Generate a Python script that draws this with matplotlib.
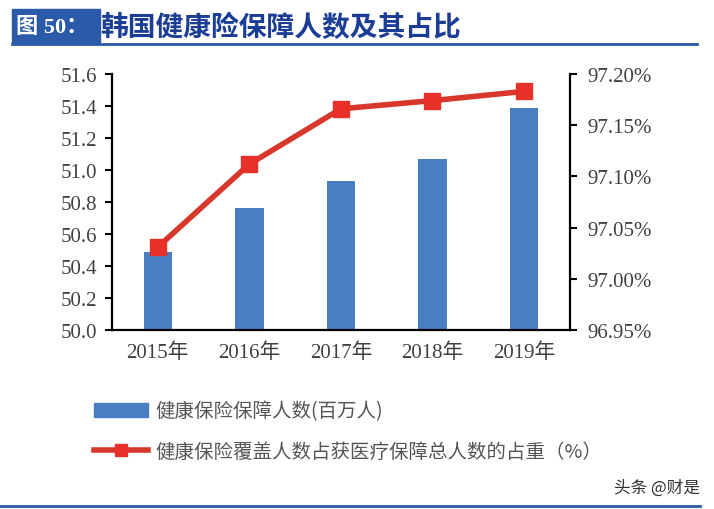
import matplotlib.pyplot as plt
from matplotlib.patches import Rectangle
from matplotlib.lines import Line2D

# 数据
years = ["2015年", "2016年", "2017年", "2018年", "2019年"]
covered = [50.49, 50.76, 50.93, 51.07, 51.39]          # 百万人
share = [97.031, 97.112, 97.166, 97.174, 97.183]        # %

left_ticks = [50.0, 50.2, 50.4, 50.6, 50.8, 51.0, 51.2, 51.4, 51.6]
right_ticks = [96.95, 97.00, 97.05, 97.10, 97.15, 97.20]

serif = ["Liberation Serif", "Noto Sans CJK SC"]
cjk = ["Noto Sans CJK SC", "DejaVu Sans"]
tick_color = "#404040"

fig = plt.figure(figsize=(7.14, 5.10), dpi=100)
ax = fig.add_axes([0.157, 0.351, 0.641, 0.502])

x = range(len(years))
ax.bar(x, covered, width=0.31, color="#4A7EC2", zorder=2)
ax.set_ylim(50.0, 51.6)
ax.set_xlim(-0.5, len(years) - 0.5)
ax.set_yticks(left_ticks)
ax.set_yticklabels([f"{v:.1f}" for v in left_ticks], family=serif, fontsize=15, color=tick_color)
ax.set_xticks(list(x))
ax.set_xticklabels(years, family=serif, fontsize=15, color=tick_color)
ax.tick_params(axis="x", length=0, pad=9)
ax.tick_params(axis="y", direction="out", length=5, width=1.5, pad=6)
for s in ["top", "right"]:
    ax.spines[s].set_visible(False)
ax.spines["left"].set_linewidth(1.6)
ax.spines["bottom"].set_linewidth(1.6)

ax2 = ax.twinx()
ax2.plot(list(x), share, color="#D8372C", linewidth=4, marker="s", markersize=12,
         markerfacecolor="#E8302A", markeredgecolor="#E8302A", zorder=3)
ax2.set_ylim(96.95, 97.20)
ax2.set_yticks(right_ticks)
ax2.set_yticklabels([f"{v:.2f}%" for v in right_ticks], family=serif, fontsize=15, color=tick_color)
ax2.tick_params(axis="y", direction="out", length=5, width=1.5, pad=8)
for s in ["top", "left", "bottom"]:
    ax2.spines[s].set_visible(False)
ax2.spines["right"].set_linewidth(1.6)

# 标题
fig.patches.append(Rectangle((12 / 714, 1 - 45 / 510), 88 / 714, 35 / 510,
                             transform=fig.transFigure, color="#2A5AA8", zorder=1))
fig.text(16 / 714, 1 - 28 / 510, "图 50：", family=["Liberation Serif", "Noto Sans CJK SC"],
         fontsize=16, fontweight="bold", color="white", va="center", ha="left")
fig.text(100 / 714, 1 - 28 / 510, "韩国健康险保障人数及其占比", family=cjk,
         fontsize=20, fontweight="bold", color="#1B3D96", va="center", ha="left")
fig.add_artist(Line2D([12 / 714, 697 / 714], [1 - 45 / 510, 1 - 45 / 510],
                      transform=fig.transFigure, color="#2A5AA8", linewidth=2))

# 图例
bar_handle = Rectangle((0, 0), 1, 1, color="#4A7EC2")
line_handle = Line2D([], [], color="#D8372C", linewidth=4, marker="s", markersize=9,
                     markerfacecolor="#E8302A", markeredgecolor="#E8302A")
fig.legend([bar_handle, line_handle],
           ["健康保险保障人数(百万人)", "健康保险覆盖人数占获医疗保障总人数的占重（%）"],
           loc="upper left", bbox_to_anchor=(76 / 714, 1 - 384 / 510), frameon=False,
           prop={"family": cjk, "size": 14}, labelcolor="#555555",
           handlelength=2.8, handletextpad=0.4, labelspacing=1.0)

# 水印与底线
fig.text(700 / 714, 1 - 488 / 510, "头条 @财是", family=cjk, fontsize=12,
         color="#333333", ha="right", va="center")
fig.add_artist(Line2D([0, 700 / 714], [1 - 507 / 510, 1 - 507 / 510],
                      transform=fig.transFigure, color="#2A5AA8", linewidth=2))

fig.savefig("out.png", dpi=100, facecolor="white")
